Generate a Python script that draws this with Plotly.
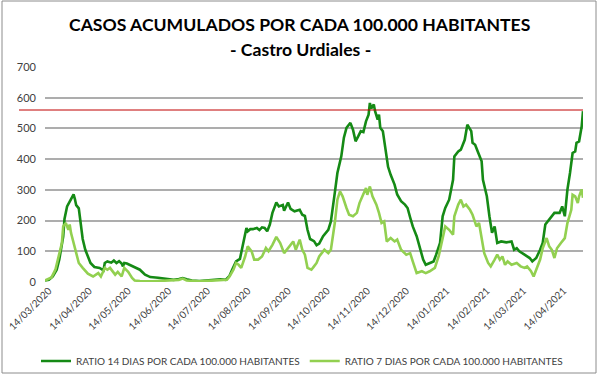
import plotly.graph_objects as go

# ---- data ----
fechas_14 = [
    "2020-03-11", "2020-03-14", "2020-03-17", "2020-03-20", "2020-03-22", "2020-03-24", "2020-03-25", "2020-03-26",
    "2020-03-28", "2020-03-30", "2020-04-01", "2020-04-02", "2020-04-03", "2020-04-04", "2020-04-06", "2020-04-07",
    "2020-04-08", "2020-04-09", "2020-04-11", "2020-04-13", "2020-04-15", "2020-04-18", "2020-04-22", "2020-04-25",
    "2020-04-26", "2020-04-28", "2020-05-01", "2020-05-03", "2020-05-05", "2020-05-07", "2020-05-09", "2020-05-10",
    "2020-05-11", "2020-05-13", "2020-05-15", "2020-05-19", "2020-05-23", "2020-05-27", "2020-05-31", "2020-06-06",
    "2020-06-12", "2020-06-18", "2020-06-22", "2020-06-25", "2020-06-28", "2020-07-02", "2020-07-08", "2020-07-14",
    "2020-07-20", "2020-07-24", "2020-07-28", "2020-07-31", "2020-08-02", "2020-08-05", "2020-08-08", "2020-08-10",
    "2020-08-12", "2020-08-13", "2020-08-14", "2020-08-16", "2020-08-18", "2020-08-21", "2020-08-23", "2020-08-25",
    "2020-08-27", "2020-08-29", "2020-08-31", "2020-09-02", "2020-09-05", "2020-09-07", "2020-09-10", "2020-09-11",
    "2020-09-14", "2020-09-16", "2020-09-19", "2020-09-23", "2020-09-25", "2020-09-27", "2020-09-29", "2020-10-01",
    "2020-10-04", "2020-10-06", "2020-10-08", "2020-10-11", "2020-10-15", "2020-10-17", "2020-10-20", "2020-10-22",
    "2020-10-25", "2020-10-27", "2020-10-29", "2020-11-01", "2020-11-03", "2020-11-05", "2020-11-07", "2020-11-09",
    "2020-11-11", "2020-11-13", "2020-11-15", "2020-11-16", "2020-11-17", "2020-11-19", "2020-11-20", "2020-11-22",
    "2020-11-23", "2020-11-24", "2020-11-26", "2020-11-28", "2020-11-30", "2020-12-02", "2020-12-05", "2020-12-07",
    "2020-12-10", "2020-12-13", "2020-12-15", "2020-12-17", "2020-12-19", "2020-12-22", "2020-12-24", "2020-12-27",
    "2020-12-29", "2021-01-01", "2021-01-04", "2021-01-06", "2021-01-09", "2021-01-11", "2021-01-13", "2021-01-16",
    "2021-01-19", "2021-01-20", "2021-01-23", "2021-01-25", "2021-01-28", "2021-01-30", "2021-02-01", "2021-02-02",
    "2021-02-03", "2021-02-05", "2021-02-07", "2021-02-10", "2021-02-11", "2021-02-14", "2021-02-16", "2021-02-18",
    "2021-02-20", "2021-02-22", "2021-02-25", "2021-03-01", "2021-03-05", "2021-03-07", "2021-03-09", "2021-03-11",
    "2021-03-15", "2021-03-19", "2021-03-21", "2021-03-24", "2021-03-27", "2021-03-29", "2021-03-31", "2021-04-03",
    "2021-04-07", "2021-04-11", "2021-04-13", "2021-04-15", "2021-04-17", "2021-04-19", "2021-04-21", "2021-04-23",
    "2021-04-24", "2021-04-26", "2021-04-28", "2021-04-29",
]
ratio_14 = [
    5, 7, 18, 40, 73, 120, 148, 205,
    246, 262, 278, 285, 270, 250, 240, 210,
    181, 140, 105, 80, 62, 49, 46, 38,
    62, 67, 63, 70, 62, 68, 60, 51,
    62, 60, 56, 46, 40, 24, 16, 14,
    10, 7, 10, 13, 9, 5, 3, 5,
    8, 9, 7, 20, 40, 67, 75, 120,
    165, 176, 165, 172, 172, 176, 169, 178,
    176, 165, 187, 225, 259, 246, 251, 232,
    259, 238, 230, 235, 219, 215, 170, 140,
    133, 120, 125, 149, 170, 197, 290, 355,
    409, 470, 502, 518, 496, 458, 474, 491,
    488, 523, 545, 583, 565, 578, 556, 529,
    545, 502, 491, 440, 375, 349, 317, 285,
    263, 252, 241, 210, 181, 149, 116, 73,
    56, 62, 67, 89, 127, 214, 241, 268,
    333, 409, 425, 431, 463, 512, 495, 491,
    453, 447, 425, 393, 333, 279, 214, 160,
    181, 127, 132, 129, 132, 105, 110, 100,
    89, 78, 67, 78, 105, 127, 187, 203,
    225, 225, 246, 214, 301, 355, 420, 425,
    453, 458, 507, 556,
]

fechas_7 = [
    "2020-03-11", "2020-03-16", "2020-03-19", "2020-03-21", "2020-03-24", "2020-03-25", "2020-03-27", "2020-03-29",
    "2020-03-30", "2020-03-31", "2020-04-02", "2020-04-04", "2020-04-06", "2020-04-09", "2020-04-13", "2020-04-17",
    "2020-04-21", "2020-04-23", "2020-04-26", "2020-04-28", "2020-04-30", "2020-05-04", "2020-05-06", "2020-05-09",
    "2020-05-11", "2020-05-14", "2020-05-17", "2020-05-19", "2020-05-23", "2020-06-02", "2020-06-12", "2020-06-22",
    "2020-06-25", "2020-06-28", "2020-07-07", "2020-07-17", "2020-07-24", "2020-07-29", "2020-07-31", "2020-08-03",
    "2020-08-05", "2020-08-07", "2020-08-09", "2020-08-12", "2020-08-14", "2020-08-17", "2020-08-19", "2020-08-22",
    "2020-08-25", "2020-08-28", "2020-08-30", "2020-09-02", "2020-09-05", "2020-09-08", "2020-09-11", "2020-09-15",
    "2020-09-18", "2020-09-20", "2020-09-23", "2020-09-25", "2020-09-27", "2020-09-29", "2020-10-02", "2020-10-04",
    "2020-10-06", "2020-10-08", "2020-10-10", "2020-10-12", "2020-10-15", "2020-10-17", "2020-10-20", "2020-10-22",
    "2020-10-24", "2020-10-26", "2020-10-29", "2020-10-31", "2020-11-03", "2020-11-06", "2020-11-08", "2020-11-11",
    "2020-11-13", "2020-11-14", "2020-11-16", "2020-11-18", "2020-11-21", "2020-11-23", "2020-11-25", "2020-11-27",
    "2020-11-29", "2020-12-02", "2020-12-05", "2020-12-07", "2020-12-10", "2020-12-14", "2020-12-17", "2020-12-19",
    "2020-12-22", "2020-12-26", "2020-12-29", "2021-01-01", "2021-01-05", "2021-01-08", "2021-01-11", "2021-01-13",
    "2021-01-16", "2021-01-19", "2021-01-20", "2021-01-23", "2021-01-25", "2021-01-27", "2021-01-29", "2021-02-01",
    "2021-02-03", "2021-02-06", "2021-02-08", "2021-02-10", "2021-02-12", "2021-02-15", "2021-02-17", "2021-02-20",
    "2021-02-22", "2021-02-24", "2021-02-26", "2021-02-28", "2021-03-02", "2021-03-05", "2021-03-09", "2021-03-12",
    "2021-03-15", "2021-03-17", "2021-03-20", "2021-03-22", "2021-03-24", "2021-03-27", "2021-03-29", "2021-04-01",
    "2021-04-03", "2021-04-05", "2021-04-07", "2021-04-09", "2021-04-12", "2021-04-15", "2021-04-17", "2021-04-20",
    "2021-04-21", "2021-04-23", "2021-04-25", "2021-04-26", "2021-04-28", "2021-04-29",
]
ratio_7 = [
    5, 15, 40, 73, 127, 181, 192, 170,
    187, 160, 127, 89, 62, 46, 27, 18,
    29, 18, 46, 40, 46, 24, 33, 18,
    46, 33, 13, 5, 3, 2, 4, 7,
    11, 5, 2, 4, 5, 7, 18, 40,
    62, 56, 46, 83, 116, 100, 73, 73,
    83, 111, 100, 121, 147, 127, 94, 116,
    132, 105, 138, 105, 89, 46, 40, 51,
    62, 83, 94, 105, 94, 105, 192, 268,
    295, 279, 241, 219, 214, 225, 257, 284,
    306, 284, 311, 279, 252, 225, 192, 197,
    132, 143, 132, 138, 105, 89, 94, 67,
    29, 35, 29, 35, 46, 85, 149, 181,
    170, 154, 214, 252, 268, 246, 252, 235,
    219, 181, 192, 149, 94, 62, 51, 73,
    89, 73, 83, 56, 67, 56, 62, 51,
    46, 51, 35, 18, 40, 73, 110, 143,
    116, 105, 78, 110, 127, 143, 192, 235,
    284, 279, 257, 279, 301, 274,
]

umbral = 560

tick_fechas = ["2020-03-14", "2020-04-14", "2020-05-14", "2020-06-14", "2020-07-14", "2020-08-14",
               "2020-09-14", "2020-10-14", "2020-11-14", "2020-12-14", "2021-01-14", "2021-02-14",
               "2021-03-14", "2021-04-14"]
tick_textos = ["14/03/2020", "14/04/2020", "14/05/2020", "14/06/2020", "14/07/2020", "14/08/2020",
               "14/09/2020", "14/10/2020", "14/11/2020", "14/12/2020", "14/01/2021", "14/02/2021",
               "14/03/2021", "14/04/2021"]

titulo = "CASOS ACUMULADOS POR CADA 100.000 HABITANTES"
subtitulo = "- Castro Urdiales -"
nombre_14 = "RATIO 14 DIAS POR CADA 100.000 HABITANTES"
nombre_7 = "RATIO 7 DIAS POR CADA 100.000 HABITANTES"

FONT = "Lato, 'Open Sans', sans-serif"

fig = go.Figure()
fig.add_trace(go.Scatter(x=fechas_14, y=ratio_14, mode="lines", name=nombre_14,
                         line=dict(color="#158A15", width=2.6)))
fig.add_trace(go.Scatter(x=fechas_7, y=ratio_7, mode="lines", name=nombre_7,
                         line=dict(color="#92D050", width=2.6)))

L, R, T, B = 45, 17, 67, 93
W, H = 600, 375
pw, ph = W - L - R, H - T - B

def px_x(p):
    return (p - L) / pw

def px_y(p):
    return (H - B - p) / ph

fig.update_layout(
    width=W, height=H,
    margin=dict(l=L, r=R, t=T, b=B, autoexpand=False),
    paper_bgcolor="white", plot_bgcolor="white",
    font=dict(family=FONT, color="#404040"),
    showlegend=True,
    legend=dict(orientation="h", x=px_x(302), xanchor="center", y=px_y(361), yanchor="middle",
                font=dict(size=10, family=FONT, color="#404040"), bgcolor="rgba(0,0,0,0)",
                itemwidth=30, tracegroupgap=0),
    xaxis=dict(type="date", range=["2020-03-11", "2021-04-29"], automargin=False,
               tickvals=tick_fechas, ticktext=tick_textos, tickangle=-45,
               tickfont=dict(size=10, family=FONT, color="#404040"),
               showgrid=False, showline=False, zeroline=False, ticks=""),
    yaxis=dict(range=[0, 700], tickvals=[0, 100, 200, 300, 400, 500, 600, 700], automargin=False,
               tickfont=dict(size=11, family=FONT, color="#404040"),
               showgrid=True, gridcolor="#ADADAD", gridwidth=1.5, zeroline=False,
               showline=False, ticks="", ticklabelstandoff=8),
    annotations=[
        dict(text="<b>" + titulo + "</b>", xref="paper", yref="paper", x=px_x(300), y=px_y(24),
             xanchor="center", yanchor="middle", showarrow=False,
             font=dict(size=17.6, family=FONT, color="black")),
        dict(text="<b>" + subtitulo + "</b>", xref="paper", yref="paper", x=px_x(300), y=px_y(49),
             xanchor="center", yanchor="middle", showarrow=False,
             font=dict(size=17.6, family=FONT, color="black")),
    ],
    shapes=[
        dict(type="line", xref="paper", yref="y", x0=px_x(19), x1=1, y0=umbral, y1=umbral,
             line=dict(color="#C00000", width=1)),
        dict(type="rect", xref="paper", yref="paper", x0=px_x(2), x1=px_x(596), y0=px_y(373), y1=px_y(1),
             line=dict(color="#8C8C8C", width=1), layer="below"),
    ],
)

fig.write_html("out.html", config={"displayModeBar": False},
               post_script="document.body.style.margin='0';")
